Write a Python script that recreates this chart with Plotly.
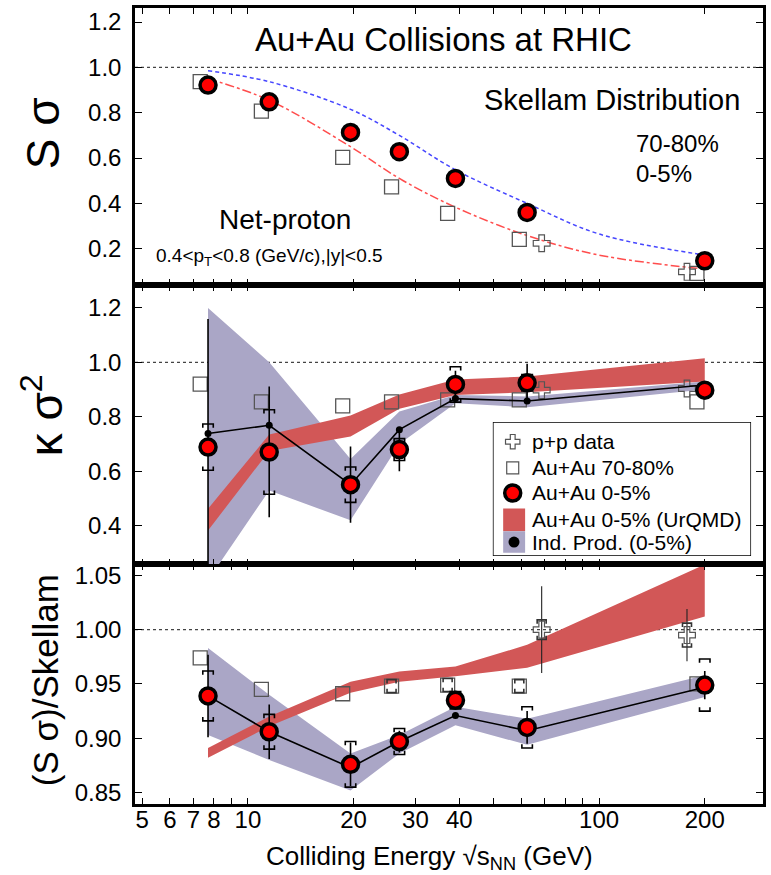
import numpy as np
import plotly.graph_objects as go

# ---------------- data ----------------
energy = [7.7, 11.5, 19.6, 27, 39, 62.4, 200]
pp_energy = [62.4, 200]

# S*sigma (top panel)
ssig_central = [0.922, 0.848, 0.713, 0.628, 0.510, 0.360, 0.147]
ssig_periph = [0.937, 0.807, 0.603, 0.473, 0.356, 0.241, 0.091]
ssig_pp = [0.224, 0.098]

# Skellam expectations
skellam_energy = [7.7, 11.5, 19.6, 27, 39, 62.4, 100, 200]
skellam_central = [0.985, 0.937, 0.815, 0.700, 0.548, 0.400, 0.265, 0.172]
skellam_periph = [0.950, 0.855, 0.650, 0.510, 0.383, 0.258, 0.172, 0.110]

# kappa*sigma^2 (middle panel)
ksig_central = [0.689, 0.671, 0.551, 0.680, 0.919, 0.925, 0.898]
ksig_central_stat = [0.47, 0.24, 0.14, 0.08, 0.05, 0.07, 0.02]
ksig_central_sys = [0.085, 0.155, 0.065, 0.04, 0.065, 0.03, 0.02]
ksig_periph = [0.920, 0.855, 0.840, 0.855, 0.862, 0.862, 0.855]
ksig_pp = [0.898, 0.904]
ksig_indprod = [0.739, 0.769, 0.551, 0.753, 0.867, 0.858, 0.917]
ksig_indprod_lo = [0.20, 0.53, 0.42, 0.70, 0.85, 0.835, 0.90]
ksig_indprod_hi = [1.20, 1.00, 0.645, 0.82, 0.88, 0.875, 0.93]
ksig_urqmd_lo = [0.383, 0.675, 0.728, 0.830, 0.880, 0.890, 0.930]
ksig_urqmd_hi = [0.463, 0.735, 0.805, 0.882, 0.937, 0.948, 1.015]

# (S*sigma)/Skellam (bottom panel)
ratio_central = [0.939, 0.906, 0.876, 0.897, 0.935, 0.910, 0.949]
ratio_central_stat = [0.038, 0.025, 0.02, 0.01, 0.008, 0.015, 0.013]
ratio_central_sys = [0.023, 0.016, 0.021, 0.012, 0.008, 0.019, 0.024]
ratio_periph = [0.974, 0.945, 0.941, 0.948, 0.949, 0.948, 0.950]
ratio_periph_sys = [0.0, 0.0, 0.0, 0.006, 0.006, 0.006, 0.0]
ratio_pp = [1.000, 0.995]
ratio_pp_stat = [0.040, 0.024]
ratio_pp_sys = [0.009, 0.011]
ratio_indprod = [0.939, 0.906, 0.873, 0.897, 0.921, 0.907, 0.947]
ratio_indprod_lo = [0.903, 0.880, 0.852, 0.886, 0.912, 0.894, 0.938]
ratio_indprod_hi = [0.983, 0.940, 0.886, 0.903, 0.929, 0.918, 0.958]
ratio_urqmd_lo = [0.882, 0.911, 0.942, 0.952, 0.957, 0.965, 1.012]
ratio_urqmd_hi = [0.891, 0.920, 0.952, 0.9615, 0.966, 0.986, 1.060]

x_ticks = [5, 6, 7, 8, 10, 20, 30, 40, 100, 200]
x_ticktext = ['5', '6', '7', '8', '10', '20', '30', '40', '100', '200']
x_minor_ticks = [9, 50, 60, 70, 80, 90]

# ---------------- style ----------------
FONT = "Liberation Sans, Arial, Helvetica, sans-serif"
RED = "#ff0000"
URQMD = "#d25757"
INDP = "#aaa6c6"
PERIPH_SHIFT = 0.95
PP_SHIFT = [1.1, 0.89]

fig = go.Figure()


def band(xs, lo, hi, color, xa, ya):
    fig.add_trace(go.Scatter(x=list(xs) + list(xs)[::-1], y=list(hi) + list(lo)[::-1],
                             fill='toself', fillcolor=color, line=dict(width=0),
                             mode='lines', hoverinfo='skip', xaxis=xa, yaxis=ya, showlegend=False))


def brackets(xs, ys, errs, d, xa, ya, fx=1.035, color='black'):
    px, py = [], []
    for x, y, e in zip(xs, ys, errs):
        if e <= 0:
            continue
        for s in (1, -1):
            t = y + s * e
            px += [x / fx, x / fx, x * fx, x * fx, None]
            py += [t - s * d, t, t, t - s * d, None]
    fig.add_trace(go.Scatter(x=px, y=py, mode='lines', line=dict(color=color, width=1.6),
                             hoverinfo='skip', xaxis=xa, yaxis=ya, showlegend=False))


periph_x = [e * PERIPH_SHIFT for e in energy]
pp_x = [e * f for e, f in zip(pp_energy, PP_SHIFT)]

sq = dict(symbol='square-open', size=14, color='#555555', line=dict(width=1.3, color='#555555'))
cr = dict(symbol='cross-open', size=14, color='#555555', line=dict(width=1.2, color='#555555'))
circ = dict(symbol='circle', size=16, color=RED, line=dict(width=3.5, color='black'))

# ---- top panel (x3, y3)
fig.add_trace(go.Scatter(x=skellam_energy, y=skellam_periph, mode='lines',
                         line=dict(color='#ff4d4d', width=1.5, dash='dashdot', shape='spline'),
                         xaxis='x3', yaxis='y3', showlegend=False))
fig.add_trace(go.Scatter(x=skellam_energy, y=skellam_central, mode='lines',
                         line=dict(color='#4646ff', width=1.5, dash='4px,3px', shape='spline'),
                         xaxis='x3', yaxis='y3', showlegend=False))
fig.add_trace(go.Scatter(x=periph_x, y=ssig_periph, mode='markers', marker=sq,
                         xaxis='x3', yaxis='y3', showlegend=False))
fig.add_trace(go.Scatter(x=pp_x, y=ssig_pp, mode='markers', marker=cr,
                         xaxis='x3', yaxis='y3', showlegend=False))
fig.add_trace(go.Scatter(x=energy, y=ssig_central, mode='markers', marker=circ,
                         xaxis='x3', yaxis='y3', showlegend=False))

# ---- middle panel (x2, y2)
band(energy, ksig_indprod_lo, ksig_indprod_hi, INDP, 'x2', 'y2')
band(energy, ksig_urqmd_lo, ksig_urqmd_hi, URQMD, 'x2', 'y2')
fig.add_trace(go.Scatter(x=periph_x, y=ksig_periph, mode='markers', marker=sq,
                         xaxis='x2', yaxis='y2', showlegend=False))
fig.add_trace(go.Scatter(x=pp_x, y=ksig_pp, mode='markers', marker=cr,
                         xaxis='x2', yaxis='y2', showlegend=False))
fig.add_trace(go.Scatter(x=energy, y=ksig_indprod, mode='lines+markers',
                         line=dict(color='black', width=1.6),
                         marker=dict(size=7, color='black'),
                         xaxis='x2', yaxis='y2', showlegend=False))
fig.add_trace(go.Scatter(x=energy, y=ksig_central, mode='markers',
                         marker=dict(size=1, color='rgba(0,0,0,0)'),
                         error_y=dict(type='data', array=ksig_central_stat, width=0,
                                      thickness=1.6, color='black'),
                         xaxis='x2', yaxis='y2', showlegend=False))
brackets(energy, ksig_central, ksig_central_sys, 0.014, 'x2', 'y2')
fig.add_trace(go.Scatter(x=energy, y=ksig_central, mode='markers', marker=circ,
                         xaxis='x2', yaxis='y2', showlegend=False))

# ---- bottom panel (x, y)
band(energy, ratio_indprod_lo, ratio_indprod_hi, INDP, 'x', 'y')
band(energy, ratio_urqmd_lo, ratio_urqmd_hi, URQMD, 'x', 'y')
fig.add_trace(go.Scatter(x=periph_x, y=ratio_periph, mode='markers', marker=sq,
                         xaxis='x', yaxis='y', showlegend=False))
brackets(periph_x, ratio_periph, ratio_periph_sys, 0.0035, 'x', 'y', fx=1.03, color='#333333')
fig.add_trace(go.Scatter(x=pp_x, y=ratio_pp, mode='markers', marker=cr,
                         error_y=dict(type='data', array=ratio_pp_stat, width=0,
                                      thickness=1.1, color='#222222'),
                         xaxis='x', yaxis='y', showlegend=False))
brackets(pp_x, ratio_pp, ratio_pp_sys, 0.0035, 'x', 'y', fx=1.03, color='#333333')
fig.add_trace(go.Scatter(x=energy, y=ratio_indprod, mode='lines+markers',
                         line=dict(color='black', width=1.6),
                         marker=dict(size=7, color='black'),
                         xaxis='x', yaxis='y', showlegend=False))
fig.add_trace(go.Scatter(x=energy, y=ratio_central, mode='markers',
                         marker=dict(size=1, color='rgba(0,0,0,0)'),
                         error_y=dict(type='data', array=ratio_central_stat, width=0,
                                      thickness=1.6, color='black'),
                         xaxis='x', yaxis='y', showlegend=False))
brackets(energy, ratio_central, ratio_central_sys, 0.0035, 'x', 'y')
fig.add_trace(go.Scatter(x=energy, y=ratio_central, mode='markers', marker=circ,
                         xaxis='x', yaxis='y', showlegend=False))

# ---- legend (x4, y4) inside middle panel
leg_rows = [0.853, 0.657, 0.47, 0.269, 0.104]
leg_labels = ['p+p data', 'Au+Au 70-80%', 'Au+Au 0-5%', 'Au+Au 0-5% (UrQMD)', 'Ind. Prod. (0-5%)']
sym_x = 0.077
fig.add_shape(type='rect', xref='x4', yref='y4', x0=0, x1=1, y0=0, y1=1,
              line=dict(color='black', width=1.5), fillcolor='white', layer='below')
fig.add_shape(type='rect', xref='x4', yref='y4', x0=0.04, x1=0.125, y0=leg_rows[3] - 0.085,
              y1=leg_rows[3] + 0.085, line=dict(width=0), fillcolor=URQMD, layer='below')
fig.add_shape(type='rect', xref='x4', yref='y4', x0=0.04, x1=0.125, y0=leg_rows[4] - 0.08,
              y1=leg_rows[4] + 0.08, line=dict(width=0), fillcolor=INDP, layer='below')
fig.add_trace(go.Scatter(x=[sym_x], y=[leg_rows[0]], mode='markers',
                         marker=dict(symbol='cross-open', size=12, color='#555555', line=dict(width=1.2)),
                         xaxis='x4', yaxis='y4', showlegend=False))
fig.add_trace(go.Scatter(x=[sym_x], y=[leg_rows[1]], mode='markers',
                         marker=dict(symbol='square-open', size=12, color='#555555', line=dict(width=1.2)),
                         xaxis='x4', yaxis='y4', showlegend=False))
fig.add_trace(go.Scatter(x=[sym_x], y=[leg_rows[2]], mode='markers', marker=circ,
                         xaxis='x4', yaxis='y4', showlegend=False))
fig.add_trace(go.Scatter(x=[sym_x + 0.005], y=[leg_rows[4]], mode='markers',
                         marker=dict(size=11, color='black'),
                         xaxis='x4', yaxis='y4', showlegend=False))

annotations = []
for yv, lab in zip(leg_rows, leg_labels):
    annotations.append(dict(x=0.145, y=yv, xref='x4', yref='y4', text=lab, showarrow=False,
                            xanchor='left', yanchor='middle', font=dict(size=21, color='black')))


def note(x, y, text, size, xanchor='center', angle=0):
    return dict(x=x, y=y, xref='paper', yref='paper', text=text, showarrow=False,
                xanchor=xanchor, yanchor='middle', textangle=angle,
                font=dict(size=size, color='black'))


annotations += [
    note(0.4905, 0.9598, 'Au+Au Collisions at RHIC', 33),
    note(0.760, 0.8844, 'Skellam Distribution', 29),
    note(0.795, 0.8304, '70-80%', 24, 'left'),
    note(0.795, 0.7927, '0-5%', 24, 'left'),
    note(0.2389, 0.7337, 'Net-proton', 28),
    note(0.0302, 0.6872, '0.4&lt;p<sub>T</sub>&lt;0.8 (GeV/c),|y|&lt;0.5', 19, 'left'),
    note(-0.146, 0.843, 'S σ', 46, angle=-90),
    note(-0.1476, 0.4887, 'κ σ<sup>2</sup>', 46, angle=-90),
    note(-0.1413, 0.1558, '(S σ)/Skellam', 35, angle=-90),
    note(0.469, -0.0666, 'Colliding Energy √s<sub>NN</sub> (GeV)', 26),
]

shapes = [
    dict(type='line', xref='paper', yref='paper', x0=0.668, x1=0.7635, y0=0.8304, y1=0.8304,
         line=dict(color='#ff4d4d', width=1.5, dash='dashdot')),
    dict(type='line', xref='paper', yref='paper', x0=0.668, x1=0.7635, y0=0.7927, y1=0.7927,
         line=dict(color='#4646ff', width=1.5, dash='4px,3px')),
    # overline of the square root in the x-axis title
    dict(type='line', xref='paper', yref='paper', x0=0.532, x1=0.6016, y0=-0.0508, y1=-0.0508,
         line=dict(color='black', width=1.3)),
]
for ya in ['y', 'y2', 'y3']:
    xa = 'x' if ya == 'y' else 'x' + ya[1:]
    shapes.append(dict(type='line', xref=xa + ' domain', yref=ya, x0=0, x1=1, y0=1, y1=1,
                       line=dict(color='#444444', width=1.4, dash='dot'), layer='below'))

XR = [float(np.log10(4.77)), float(np.log10(293))]


def xax(anchor, labels):
    return dict(type='log', range=XR, domain=[0, 1], anchor=anchor,
                showline=True, linewidth=2.5, linecolor='black', mirror='ticks',
                ticks='inside', ticklen=6, tickwidth=1, tickcolor='black',
                tickvals=x_ticks, ticktext=x_ticktext, showticklabels=labels,
                ticklabelstandoff=-8,
                minor=dict(tickvals=x_minor_ticks, ticks='inside', ticklen=6, tickwidth=1,
                           tickcolor='black', showgrid=False),
                showgrid=False, zeroline=False, tickfont=dict(size=24, color='black'))


def yax(anchor, domain, rng, vals, fmt):
    return dict(domain=domain, range=rng, anchor=anchor,
                showline=True, linewidth=2.5, linecolor='black', mirror='ticks',
                ticks='inside', ticklen=7, tickwidth=1, tickcolor='black',
                tickvals=vals, tickformat=fmt, ticklabelstandoff=6,
                showgrid=False, zeroline=False, tickfont=dict(size=24, color='black'))


fig.update_layout(
    width=771, height=875,
    margin=dict(l=135, r=5, t=8, b=71),
    paper_bgcolor='white', plot_bgcolor='white',
    font=dict(family=FONT, color='black'),
    showlegend=False,
    xaxis=xax('y', True),
    xaxis2=xax('y2', False),
    xaxis3=xax('y3', False),
    yaxis=yax('x', [0, 0.3009], [0.8395, 1.06], [0.85, 0.90, 0.95, 1.00, 1.05], '.2f'),
    yaxis2=yax('x2', [0.3009, 0.652], [0.258, 1.284], [0.4, 0.6, 0.8, 1.0, 1.2], '.1f'),
    yaxis3=yax('x3', [0.652, 1.0], [0.04, 1.262], [0.2, 0.4, 0.6, 0.8, 1.0, 1.2], '.1f'),
    xaxis4=dict(domain=[0.5698, 0.981], range=[0, 1], anchor='y4', visible=False),
    yaxis4=dict(domain=[0.3116, 0.4799], range=[0, 1], anchor='x4', visible=False),
    annotations=annotations,
    shapes=shapes,
)

fig.write_html("out.html", config={'displayModeBar': False},
               post_script="document.body.style.margin='0';document.body.style.overflow='hidden';")
